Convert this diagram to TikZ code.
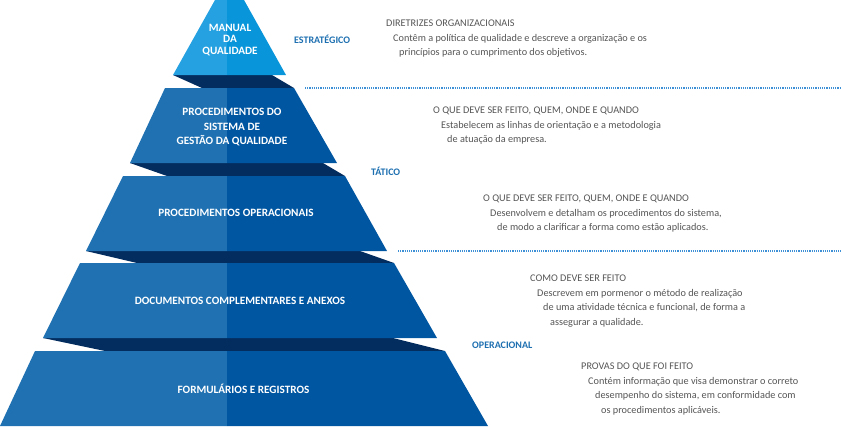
\documentclass[tikz,border=0pt]{standalone}
\usepackage{fontspec}
\setmainfont{Carlito}
\definecolor{skyL}{HTML}{25A1E1}
\definecolor{skyR}{HTML}{0995DA}
\definecolor{tierL}{HTML}{1F71B2}
\definecolor{tierR}{HTML}{0156A1}
\definecolor{band}{HTML}{032D5F}
\definecolor{greytxt}{HTML}{555555}
\definecolor{lvl}{HTML}{1D6FB0}
\definecolor{dots}{HTML}{3D8FD6}
\tikzset{
  tiertext/.style={text=white,font=\fontsize{11.2}{14.5}\selectfont\bfseries,align=center,inner sep=0pt},
  desc/.style={text=greytxt,font=\fontsize{10.25}{12}\selectfont,anchor=base west,inner sep=0pt},
  level/.style={text=lvl,font=\fontsize{10}{12}\selectfont\bfseries,anchor=base west,inner sep=0pt},
  dotline/.style={draw=dots,line width=1.3pt,dash pattern=on 1.1pt off 1.1pt},
}
\begin{document}
\begin{tikzpicture}[x=1pt,y=-1pt]
\useasboundingbox (0,0) rectangle (841,426);
% bands
\fill[band] (173,75) -- (272,75) -- (294,88) -- (202,88) -- cycle;
\fill[band] (130,163) -- (323,163) -- (345,176) -- (167,176) -- cycle;
\fill[band] (86,251) -- (360,251) -- (394,263) -- (137,263) -- cycle;
\fill[band] (43,338) -- (393,338) -- (445,351) -- (105,351) -- cycle;
% tier 1
\fill[skyL] (215,0) -- (227,0) -- (227,75) -- (173,75) -- cycle;
\fill[skyR] (227,0) -- (244,0) -- (286,75) -- (227,75) -- cycle;
% tier 2
\fill[tierL] (165,88) -- (227,88) -- (227,163) -- (130,163) -- cycle;
\fill[tierR] (227,88) -- (294,88) -- (337,163) -- (227,163) -- cycle;
% tier 3
\fill[tierL] (123,176) -- (227,176) -- (227,251) -- (86,251) -- cycle;
\fill[tierR] (227,176) -- (345,176) -- (387,251) -- (227,251) -- cycle;
% tier 4
\fill[tierL] (80,263) -- (227,263) -- (227,338) -- (43,338) -- cycle;
\fill[tierR] (227,263) -- (394,263) -- (437,338) -- (227,338) -- cycle;
% tier 5
\fill[tierL] (35,351) -- (227,351) -- (227,426) -- (0,426) -- cycle;
\fill[tierR] (227,351) -- (445,351) -- (488,426) -- (227,426) -- cycle;
% tier labels
\node[tiertext,font=\fontsize{11.2}{11.5}\selectfont\bfseries] (t1) at (230,40) {MANUAL\\DA\\QUALIDADE};
\node[tiertext] (t2) at (232,127.5) {PROCEDIMENTOS DO\\SISTEMA DE\\GESTÃO DA QUALIDADE};
\node[tiertext] (t3) at (236,213) {PROCEDIMENTOS OPERACIONAIS};
\node[tiertext] (t4) at (240,301) {DOCUMENTOS COMPLEMENTARES E ANEXOS};
\node[tiertext] (t5) at (243.5,389) {FORMULÁRIOS E REGISTROS};
% level labels
\node[level] (lv1) at (294,43.5) {ESTRATÉGICO};
\node[level] (lv2) at (371,175) {TÁTICO};
\node[level] (lv3) at (472,348.5) {OPERACIONAL};
% dotted separators
\coordinate (d1a) at (305,88); \coordinate (d1b) at (841,88);
\coordinate (d2a) at (398,251); \coordinate (d2b) at (841,251);
\draw[dotline] (d1a) -- (d1b);
\draw[dotline] (d2a) -- (d2b);
% descriptions
\node[desc] (a1) at (386,26.5) {DIRETRIZES ORGANIZACIONAIS};
\node[desc] (a2) at (393,41) {Contêm a política de qualidade e descreve a organização e os};
\node[desc] (a3) at (399,55.5) {princípios para o cumprimento dos objetivos.};
\node[desc] (b1) at (433,113.5) {O QUE DEVE SER FEITO, QUEM, ONDE E QUANDO};
\node[desc] (b2) at (441,128) {Estabelecem as linhas de orientação e a metodologia};
\node[desc] (b3) at (447,142.5) {de atuação da empresa.};
\node[desc] (c1) at (483,201.5) {O QUE DEVE SER FEITO, QUEM, ONDE E QUANDO};
\node[desc] (c2) at (490,216) {Desenvolvem e detalham os procedimentos do sistema,};
\node[desc] (c3) at (497,230.5) {de modo a clarificar a forma como estão aplicados.};
\node[desc] (e1) at (530,281) {COMO DEVE SER FEITO};
\node[desc] (e2) at (537,296) {Descrevem em pormenor o método de realização};
\node[desc] (e3) at (543,310.5) {de uma atividade técnica e funcional, de forma a};
\node[desc] (e4) at (550,325.5) {assegurar a qualidade.};
\node[desc] (f1) at (581,369.5) {PROVAS DO QUE FOI FEITO};
\node[desc] (f2) at (588,384) {Contém informação que visa demonstrar o correto};
\node[desc] (f3) at (595,398.5) {desempenho do sistema, em conformidade com};
\node[desc] (f4) at (601,413) {os procedimentos aplicáveis.};
\end{tikzpicture}
\end{document}
